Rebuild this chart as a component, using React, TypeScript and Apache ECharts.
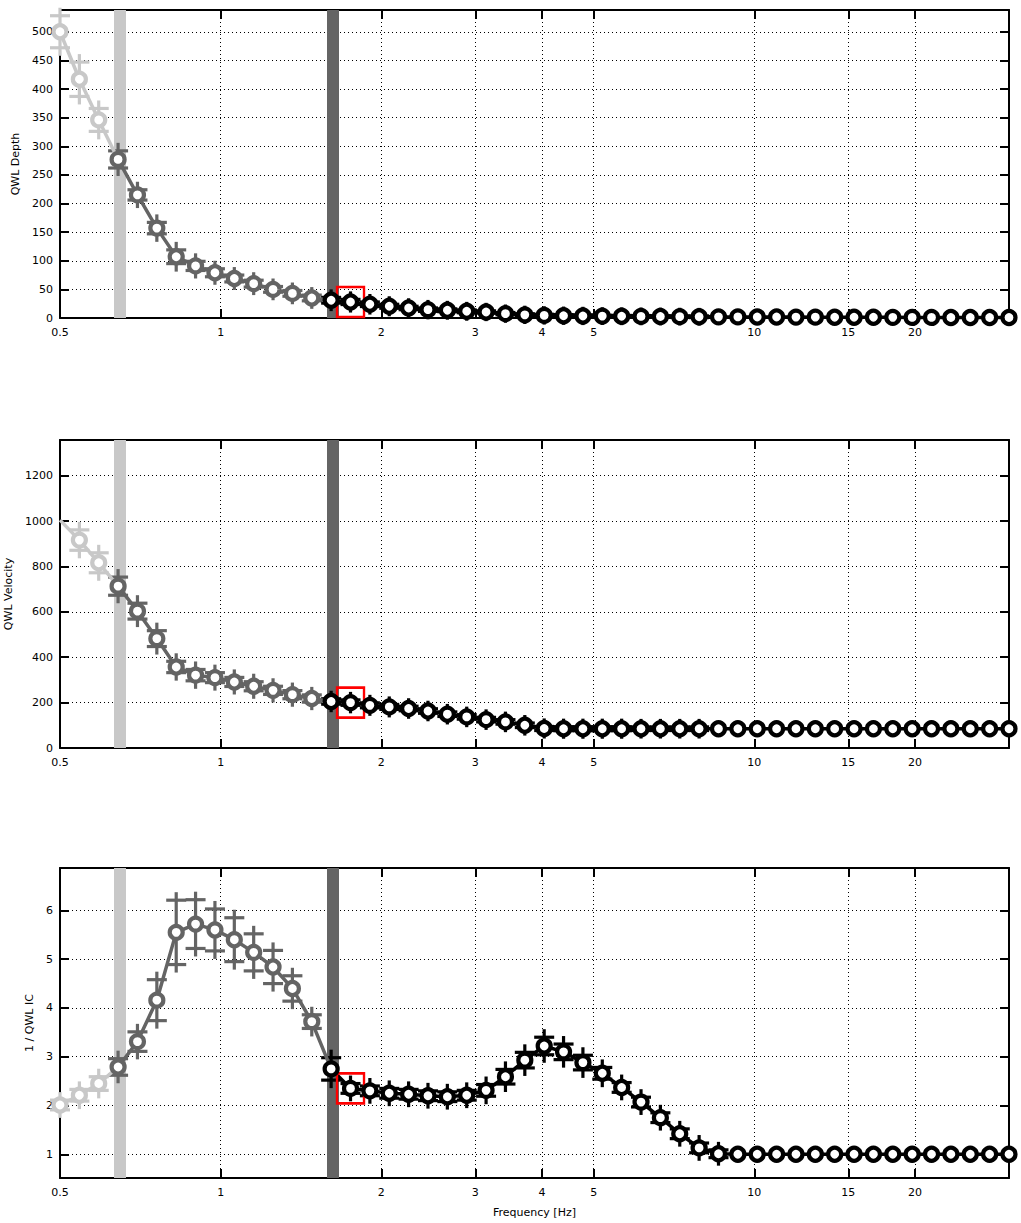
import React, { useEffect, useRef } from "react";
import * as echarts from "echarts";

// ---- data ----
const FREQ = [
  0.5, 0.5436, 0.5909, 0.6424, 0.6984, 0.7593, 0.8255, 0.8974, 0.9756, 1.0607,
  1.1531, 1.2536, 1.3628, 1.4816, 1.6107, 1.7511, 1.9037, 2.0696, 2.2499, 2.446,
  2.6592, 2.8909, 3.1429, 3.4168, 3.7145, 4.0382, 4.3902, 4.7727, 5.1887, 5.6409,
  6.1325, 6.6669, 7.2479, 7.8796, 8.5663, 9.3128, 10.124, 11.007, 11.966, 13.009,
  14.142, 15.375, 16.715, 18.171, 19.755, 21.476, 23.348, 25.383, 27.595, 30.0,
];
const X_TICKS = [0.5, 1, 2, 3, 4, 5, 10, 15, 20];

const DEPTH = [
  500, 417, 346, 277, 215, 157, 107, 91, 79, 69,
  60, 50, 43, 35, 31, 28, 24, 20.5, 17.5, 14.6,
  13.5, 11.7, 10.5, 7.6, 5.5, 4.5, 4, 3.6, 3.3, 3,
  2.8, 2.6, 2.4, 2.2, 2, 1.9, 1.8, 1.7, 1.6, 1.5,
  1.4, 1.3, 1.2, 1.1, 1, 1, 0.9, 0.9, 0.8, 0.8,
];
const DEPTH_ERR = [
  28, 30, 20, 15, 9, 10, 12, 8, 7, 6,
  6, 5, 5, 5, 5, 4.5, 4, 3.5, 3, 3,
  2.5, 2.5, 2, 2, 2, 2, 2, 2, 1.5, 1.5,
  1.5, 1.5, 1.5, 1.5, 0, 0, 0, 0, 0, 0,
  0, 0, 0, 0, 0, 0, 0, 0, 0, 0,
];

const VELOCITY = [
  1004, 916, 816, 713, 603, 482, 357, 321, 310, 291,
  272, 254, 235, 218, 205, 200, 188, 181, 174, 163,
  149, 137, 125, 115, 100, 86, 85, 85, 85, 85,
  85, 85, 85, 85, 85, 85, 85, 85, 85, 85,
  85, 85, 85, 85, 85, 85, 85, 85, 85, 85,
];
const VELOCITY_ERR = [
  0, 45, 44, 40, 35, 35, 25, 25, 22, 20,
  20, 18, 18, 16, 12, 12, 11, 11, 10, 10,
  10, 10, 10, 10, 10, 9, 9, 9, 9, 9,
  8, 8, 8, 8, 0, 0, 0, 0, 0, 0,
  0, 0, 0, 0, 0, 0, 0, 0, 0, 0,
];

const IC = [
  2.01, 2.21, 2.45, 2.79, 3.31, 4.16, 5.55, 5.72, 5.6, 5.4,
  5.14, 4.84, 4.4, 3.72, 2.75, 2.35, 2.3, 2.25, 2.23, 2.2,
  2.18, 2.21, 2.31, 2.59, 2.93, 3.22, 3.1, 2.88, 2.66, 2.37,
  2.07, 1.75, 1.42, 1.13, 1.01, 1.0, 1.0, 1.0, 1.0, 1.0,
  1.0, 1.0, 1.0, 1.0, 1.0, 1.0, 1.0, 1.0, 1.0, 1.0,
];
const IC_ERR = [
  0.1, 0.12, 0.14, 0.17, 0.2, 0.42, 0.66, 0.5, 0.43, 0.45,
  0.38, 0.34, 0.26, 0.14, 0.23, 0.1, 0.1, 0.1, 0.1, 0.1,
  0.1, 0.1, 0.12, 0.15, 0.16, 0.18, 0.16, 0.15, 0.12, 0.1,
  0.1, 0.1, 0.1, 0.1, 0.08, 0, 0, 0, 0, 0,
  0, 0, 0, 0, 0, 0, 0, 0, 0, 0,
];

const DEPTH_TICKS = [0, 50, 100, 150, 200, 250, 300, 350, 400, 450, 500];
const VELOCITY_TICKS = [0, 200, 400, 600, 800, 1000, 1200];
const IC_TICKS = [1, 2, 3, 4, 5, 6];

const Y_NAMES = ["QWL Depth", "QWL Velocity", "1 / QWL IC"];
const X_NAME = "Frequency [Hz]";

// index boundaries of the colour groups and the selected point
const LIGHT_END = 3;
const DARK_END = 14;
const SELECTED = 15;

// ---- styling ----
const FONT = "DejaVu Sans";
const LIGHT = "#c8c8c8";
const DARK = "#646464";
const BLACK = "#000000";

const PANELS = [
  { values: DEPTH, errs: DEPTH_ERR, ticks: DEPTH_TICKS, min: 0, max: 538, name: Y_NAMES[0], nameGap: 34, top: 10, height: 308, hideFirst: false },
  { values: VELOCITY, errs: VELOCITY_ERR, ticks: VELOCITY_TICKS, min: 0, max: 1357, name: Y_NAMES[1], nameGap: 34, top: 440, height: 308, hideFirst: true },
  { values: IC, errs: IC_ERR, ticks: IC_TICKS, min: 0.513, max: 6.87, name: Y_NAMES[2], nameGap: 22, top: 868, height: 310, hideFirst: false },
];

const LX = FREQ.map((f) => Math.log10(f));
const X_TICKS_L = X_TICKS.map((f) => Math.log10(f));
const XMIN = Math.log10(0.5);
const XMAX = Math.log10(30);

function fmtX(v: number) {
  return String(+Math.pow(10, v).toFixed(2));
}
function fmtY(v: number) {
  return String(+v.toFixed(2));
}

function errRender(color: string) {
  return (params: any, api: any) => {
    const x = api.value(0);
    const y = api.value(1);
    const e = api.value(2);
    if (!(e > 0)) return null;
    const up = api.coord([x, y + e]);
    const dn = api.coord([x, y - e]);
    const px = up[0];
    const style = { stroke: color, lineWidth: 3.2, fill: null };
    const EXT = 8;
    const CAP = 10;
    return {
      type: "group",
      children: [
        { type: "line", shape: { x1: px, y1: up[1] - EXT, x2: px, y2: dn[1] + EXT }, style },
        { type: "line", shape: { x1: px - CAP, y1: up[1], x2: px + CAP, y2: up[1] }, style },
        { type: "line", shape: { x1: px - CAP, y1: dn[1], x2: px + CAP, y2: dn[1] }, style },
      ],
    };
  };
}

function buildOption() {
  const grid: any[] = [];
  const xAxis: any[] = [];
  const yAxis: any[] = [];
  const series: any[] = [];
  const axisLine = { show: true, onZero: false, lineStyle: { color: "#000", width: 2 } };
  const tickStyle = { color: "#000", width: 2 };
  const labelStyle = { fontFamily: FONT, fontSize: 11, color: "#000" };
  const gridLine = { show: true, lineStyle: { color: "#000", width: 1, type: [1, 3] } };

  PANELS.forEach((p, pi) => {
    grid.push({ left: 60, right: 12, top: p.top, height: p.height, show: false, containLabel: false, outerBoundsMode: "none" });
    const xb: any = {
      gridIndex: pi, type: "value", min: XMIN, max: XMAX, position: "bottom",
      axisLine,
      axisTick: { show: true, inside: true, length: 9, lineStyle: tickStyle, customValues: X_TICKS_L },
      axisLabel: { show: true, customValues: X_TICKS_L, formatter: fmtX, margin: 9, ...labelStyle, hideOverlap: false },
      splitLine: gridLine,
    };
    if (pi === 2) {
      xb.name = X_NAME;
      xb.nameLocation = "middle";
      xb.nameGap = 29;
      xb.nameTextStyle = labelStyle;
    }
    xAxis.push(xb);
    xAxis.push({
      gridIndex: pi, type: "value", min: XMIN, max: XMAX, position: "top",
      axisLine,
      axisTick: { show: true, inside: true, length: 9, lineStyle: tickStyle, customValues: X_TICKS_L },
      axisLabel: { show: false },
      splitLine: { show: false },
    });
    yAxis.push({
      gridIndex: pi, type: "value", min: p.min, max: p.max, position: "left",
      axisLine,
      axisTick: { show: true, inside: true, length: 9, lineStyle: tickStyle, customValues: p.ticks },
      axisLabel: { show: true, customValues: p.ticks, formatter: fmtY, margin: 7, ...labelStyle, hideOverlap: false },
      splitLine: gridLine,
      name: p.name, nameLocation: "middle", nameGap: p.nameGap, nameRotate: 90,
      nameTextStyle: labelStyle,
    });
    yAxis.push({
      gridIndex: pi, type: "value", min: p.min, max: p.max, position: "right",
      axisLine,
      axisTick: { show: true, inside: true, length: 9, lineStyle: tickStyle, customValues: p.ticks },
      axisLabel: { show: false },
      splitLine: { show: false },
    });

    const xi = pi * 2;
    const yi = pi * 2;
    const groups = [
      { from: 0, to: LIGHT_END, color: LIGHT },
      { from: LIGHT_END, to: DARK_END, color: DARK },
      { from: DARK_END, to: FREQ.length - 1, color: BLACK },
    ];
    groups.forEach((g, gi) => {
      const errData: any[] = [];
      const lineData: any[] = [];
      for (let i = g.from; i <= g.to; i++) {
        const own = gi === 2 ? true : i < g.to;
        if (own) errData.push([LX[i], p.values[i], p.errs[i]]);
        const hideSym = !own || (p.hideFirst && i === 0);
        lineData.push(hideSym ? { value: [LX[i], p.values[i]], symbol: "none" } : [LX[i], p.values[i]]);
      }
      if (gi === 2) {
        // selected-point box, under the black markers
        series.push({
          type: "scatter", xAxisIndex: xi, yAxisIndex: yi, silent: true, z: 2,
          symbol: "rect", symbolSize: [27, 30],
          itemStyle: { color: "rgba(0,0,0,0)", borderColor: "#ff0000", borderWidth: 2.5, opacity: 1 },
          data: [[LX[SELECTED], p.values[SELECTED]]],
        });
      }
      series.push({
        type: "custom", xAxisIndex: xi, yAxisIndex: yi, silent: true, z: 2, clip: false,
        renderItem: errRender(g.color),
        encode: { x: 0, y: 1 },
        data: errData,
      });
      const ls: any = {
        type: "line", xAxisIndex: xi, yAxisIndex: yi, silent: true, z: 2, clip: false,
        showSymbol: true, showAllSymbol: true, symbol: "circle", symbolSize: 13,
        itemStyle: { color: "#ffffff", borderColor: g.color, borderWidth: 4.2 },
        lineStyle: { color: g.color, width: 3.5 },
        emphasis: { disabled: true },
        data: lineData,
      };
      if (gi === 0) {
        ls.markLine = {
          silent: true, z: 1, symbol: ["none", "none"], animation: false,
          label: { show: false },
          lineStyle: { color: LIGHT, width: 12, type: "solid" },
          emphasis: { disabled: true },
          data: [
            { xAxis: LX[LIGHT_END] },
            { xAxis: LX[DARK_END], lineStyle: { color: DARK, width: 12, type: "solid" } },
          ],
        };
      }
      series.push(ls);
    });
  });

  return { animation: false, backgroundColor: "#ffffff", grid, xAxis, yAxis, series };
}

export default function App() {
  const ref = useRef<HTMLDivElement>(null);
  useEffect(() => {
    if (!ref.current) return;
    const chart = echarts.init(ref.current, undefined, { renderer: "svg" });
    chart.setOption(buildOption() as any);
    return () => chart.dispose();
  }, []);
  return (
    <div
      ref={ref}
      style={{ position: "absolute", left: 0, top: 0, width: 1021, height: 1223, background: "#fff" }}
    />
  );
}
